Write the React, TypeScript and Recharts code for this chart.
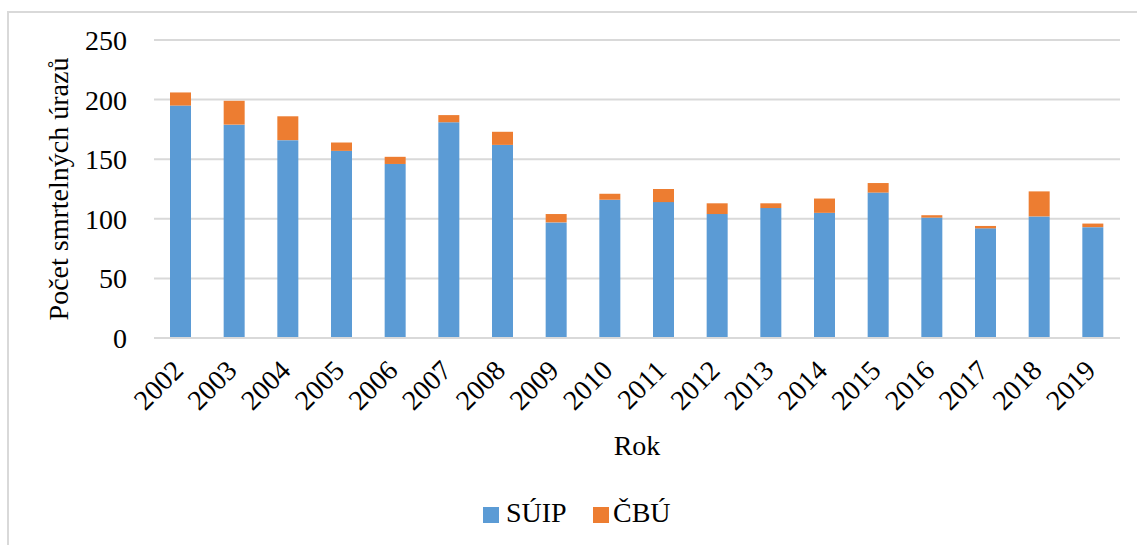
import { BarChart, Bar, XAxis, YAxis, CartesianGrid, Legend } from 'recharts';

const FONT = 'Liberation Serif, DejaVu Serif, serif';

// roky a počty smrtelných úrazů
const years = ['2002', '2003', '2004', '2005', '2006', '2007', '2008', '2009', '2010', '2011', '2012', '2013', '2014', '2015', '2016', '2017', '2018', '2019'];
const suip = [195, 179, 166, 157, 146, 181, 162, 97, 116, 114, 104, 109, 105, 122, 101, 92, 102, 93];
const cbu = [11, 20, 20, 7, 6, 6, 11, 7, 5, 11, 9, 4, 12, 8, 2, 2, 21, 3];
const yTicks = [0, 50, 100, 150, 200, 250];

const seriesNames = { suip: 'SÚIP', cbu: 'ČBÚ' };
const colors = { suip: '#5b9bd5', cbu: '#ed7d31' };

const chartData = years.map((year, i) => ({ year, suip: suip[i], cbu: cbu[i] }));

const YearTick = ({ x, y, payload }: any) => (
  <g transform={`translate(${x},${y})`}>
    <text x={4} y={34} transform="rotate(-45 4 34)" textAnchor="end" fontSize={28} style={{ fontFamily: FONT }} fill="#000">
      {payload.value}
    </text>
  </g>
);

const YTitle = ({ viewBox }: any) => {
  const cx = viewBox.x + 68;
  const cy = viewBox.y + viewBox.height / 2;
  return (
    <text x={cx} y={cy} transform={`rotate(-90 ${cx} ${cy})`} textAnchor="middle" fontSize={28} style={{ fontFamily: FONT }} fill="#000">
      Počet smrtelných úrazů
    </text>
  );
};

const LegendBox = () => (
  <div style={{ position: 'relative', width: 1137, height: 60, fontFamily: FONT, fontSize: 28, color: '#000' }}>
    <span style={{ position: 'absolute', left: 483, top: 22, width: 16, height: 16, background: colors.suip }} />
    <span style={{ position: 'absolute', left: 506, top: 12, lineHeight: '32px' }}>{seriesNames.suip}</span>
    <span style={{ position: 'absolute', left: 593, top: 22, width: 16, height: 16, background: colors.cbu }} />
    <span style={{ position: 'absolute', left: 613, top: 12, lineHeight: '32px' }}>{seriesNames.cbu}</span>
  </div>
);

export default function App() {
  return (
    <div style={{ position: 'absolute', left: 0, top: 0, width: 1137, height: 545, background: '#fff', overflow: 'hidden', fontFamily: FONT }}>
      <div style={{ position: 'absolute', left: 7, top: 11, width: 1160, height: 600, border: '2px solid #d9d9d9' }} />
      <div style={{ position: 'absolute', left: 0, top: 0 }}>
        <BarChart width={1137} height={545} data={chartData} margin={{ top: 40, right: 17, left: 0, bottom: 0 }} barSize={21}>
          <CartesianGrid vertical={false} stroke="#d9d9d9" strokeWidth={2} />
          <XAxis
            dataKey="year"
            height={147}
            interval={0}
            tickLine={false}
            tickSize={0}
            tickMargin={0}
            axisLine={{ stroke: '#d9d9d9', strokeWidth: 2 }}
            tick={<YearTick />}
            label={{ value: 'Rok', position: 'insideBottom', offset: 30, fontSize: 28, style: { fontFamily: FONT }, fill: '#000' }}
          />
          <YAxis
            width={154}
            domain={[0, 250]}
            ticks={yTicks}
            axisLine={false}
            tickLine={false}
            tickSize={0}
            tickMargin={27}
            tick={{ fontSize: 28, style: { fontFamily: FONT }, fill: '#000' }}
            label={{ content: <YTitle /> }}
          />
          <Legend verticalAlign="bottom" content={<LegendBox />} wrapperStyle={{ left: 0, width: 1137, height: 60 }} />
          <Bar dataKey="suip" name={seriesNames.suip} stackId="a" fill={colors.suip} isAnimationActive={false} />
          <Bar dataKey="cbu" name={seriesNames.cbu} stackId="a" fill={colors.cbu} isAnimationActive={false} />
        </BarChart>
      </div>
    </div>
  );
}
